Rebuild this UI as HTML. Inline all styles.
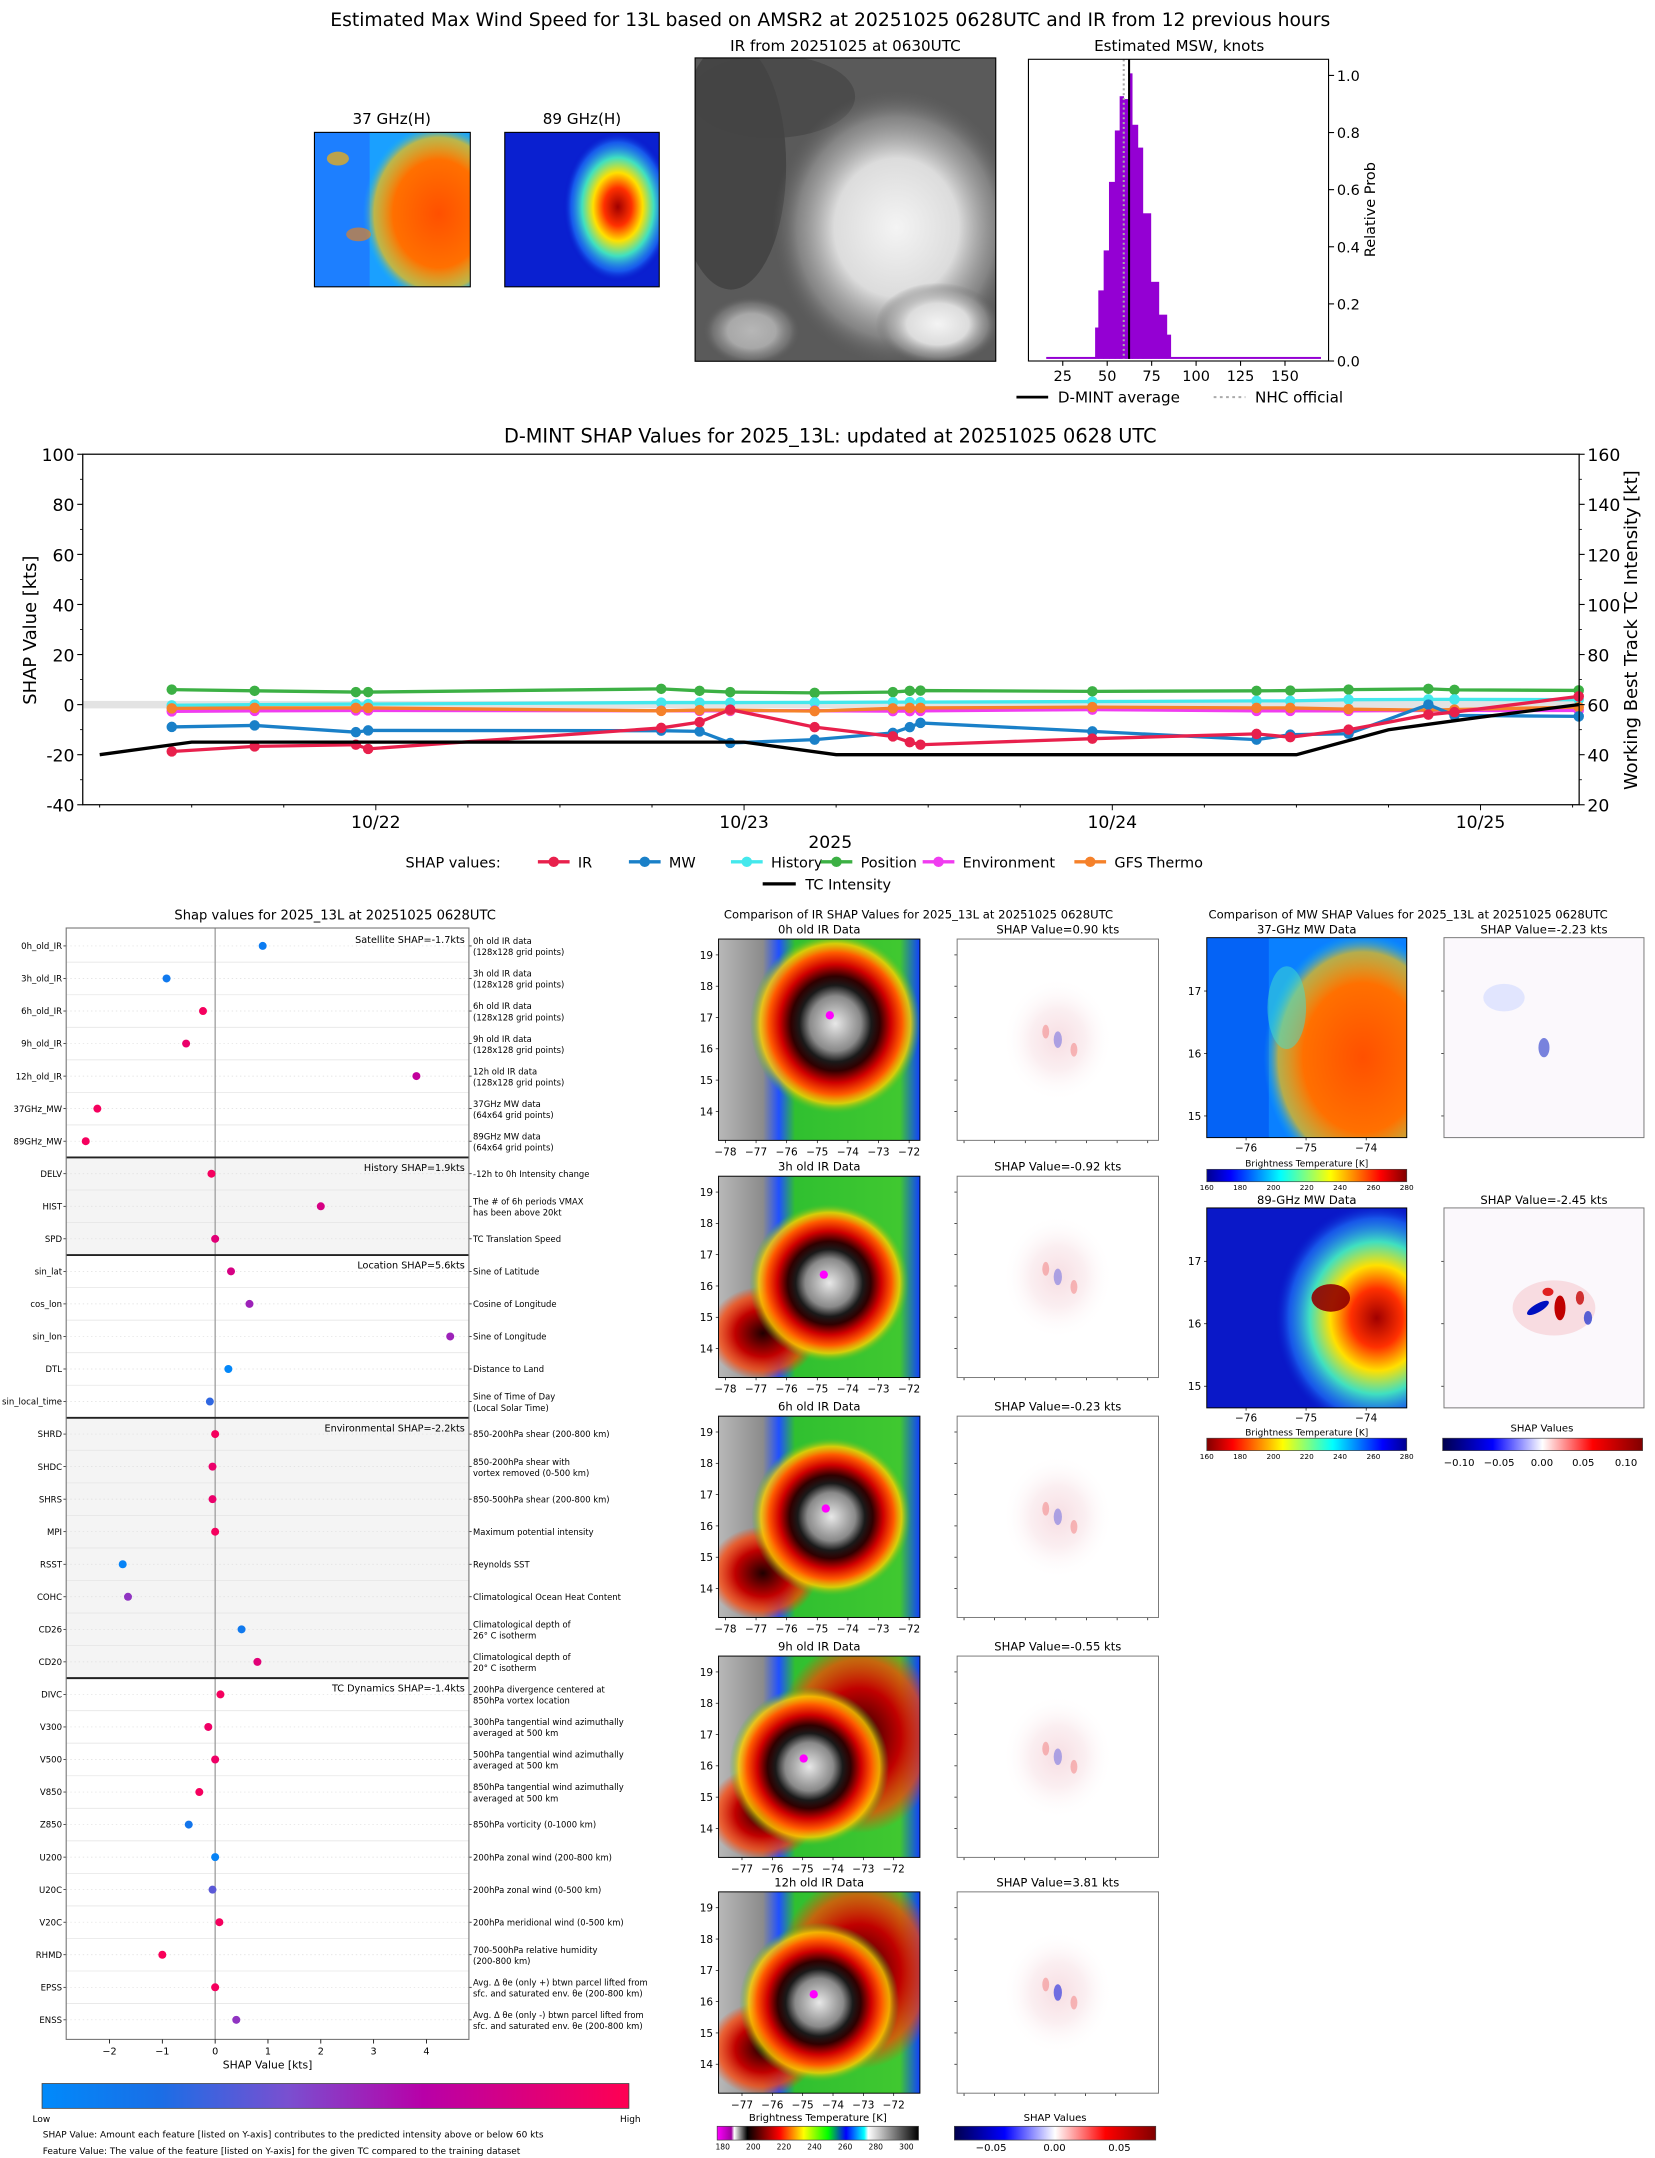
<!DOCTYPE html>
<html><head><meta charset="utf-8">
<style>
html,body{margin:0;padding:0;background:#fff;}
svg{display:block;font-family:"DejaVu Sans","Liberation Sans",sans-serif;}
text{fill:#000;}
</style></head>
<body>
<svg id="root" xmlns="http://www.w3.org/2000/svg" width="1655" height="2158" viewBox="0 0 1200 1565" preserveAspectRatio="none">
<defs>
<linearGradient id="jet" x1="0" x2="1" y1="0" y2="0">
<stop offset="0" stop-color="#00008f"/><stop offset="0.12" stop-color="#0000ff"/><stop offset="0.37" stop-color="#00ffff"/><stop offset="0.62" stop-color="#ffff00"/><stop offset="0.87" stop-color="#ff0000"/><stop offset="1" stop-color="#800000"/>
</linearGradient>
<linearGradient id="jetr" x1="1" x2="0" y1="0" y2="0">
<stop offset="0" stop-color="#00008f"/><stop offset="0.12" stop-color="#0000ff"/><stop offset="0.37" stop-color="#00ffff"/><stop offset="0.62" stop-color="#ffff00"/><stop offset="0.87" stop-color="#ff0000"/><stop offset="1" stop-color="#800000"/>
</linearGradient>
<linearGradient id="seis" x1="0" x2="1" y1="0" y2="0">
<stop offset="0" stop-color="#00004c"/><stop offset="0.25" stop-color="#0000ff"/><stop offset="0.5" stop-color="#ffffff"/><stop offset="0.75" stop-color="#ff0000"/><stop offset="1" stop-color="#800000"/>
</linearGradient>
<linearGradient id="irmap" x1="0" x2="1" y1="0" y2="0">
<stop offset="0" stop-color="#ff00ff"/><stop offset="0.07" stop-color="#a000a0"/><stop offset="0.085" stop-color="#ffffff"/><stop offset="0.15" stop-color="#000000"/><stop offset="0.31" stop-color="#ff0000"/><stop offset="0.43" stop-color="#ffff00"/><stop offset="0.55" stop-color="#00ff00"/><stop offset="0.64" stop-color="#0000ff"/><stop offset="0.73" stop-color="#00ffff"/><stop offset="0.75" stop-color="#ffffff"/><stop offset="1" stop-color="#000000"/>
</linearGradient>
<linearGradient id="beegrad" x1="0" x2="1" y1="0" y2="0">
<stop offset="0" stop-color="#008afb"/><stop offset="0.2" stop-color="#1a6ee6"/><stop offset="0.42" stop-color="#7a4fd0"/><stop offset="0.65" stop-color="#b800a8"/><stop offset="1" stop-color="#ff0052"/>
</linearGradient>
<linearGradient id="irbase" x1="0" x2="1" y1="0" y2="0">
<stop offset="0" stop-color="#b8b8b8"/><stop offset="0.22" stop-color="#8c8c8c"/><stop offset="0.3" stop-color="#2050ff"/><stop offset="0.38" stop-color="#30c030"/><stop offset="0.9" stop-color="#40c830"/><stop offset="1" stop-color="#1040ff"/>
</linearGradient>
<radialGradient id="irstorm">
<stop offset="0" stop-color="#e8e8e8"/><stop offset="0.3" stop-color="#8a8a8a"/><stop offset="0.42" stop-color="#1a1a1a"/><stop offset="0.52" stop-color="#300000"/><stop offset="0.65" stop-color="#d00000"/><stop offset="0.78" stop-color="#ff5a00"/><stop offset="0.88" stop-color="#ffd000" stop-opacity="0.8"/><stop offset="1" stop-color="#30c030" stop-opacity="0"/>
</radialGradient>
<radialGradient id="irblob">
<stop offset="0" stop-color="#200000"/><stop offset="0.5" stop-color="#c00000"/><stop offset="0.8" stop-color="#ff4000" stop-opacity="0.7"/><stop offset="1" stop-color="#ff4000" stop-opacity="0"/>
</radialGradient>
<radialGradient id="grayblob">
<stop offset="0" stop-color="#f4f4f4"/><stop offset="0.5" stop-color="#dcdcdc"/><stop offset="0.8" stop-color="#a0a0a0" stop-opacity="0.6"/><stop offset="1" stop-color="#606060" stop-opacity="0"/>
</radialGradient>
<radialGradient id="orangeblob">
<stop offset="0" stop-color="#ff5000"/><stop offset="0.6" stop-color="#ff7000"/><stop offset="0.85" stop-color="#ffc000" stop-opacity="0.7"/><stop offset="1" stop-color="#00c0ff" stop-opacity="0"/>
</radialGradient>
<radialGradient id="mw89blob">
<stop offset="0" stop-color="#a00000"/><stop offset="0.25" stop-color="#ff3000"/><stop offset="0.45" stop-color="#ffe000"/><stop offset="0.65" stop-color="#40e0c0"/><stop offset="0.85" stop-color="#2080ff" stop-opacity="0.6"/><stop offset="1" stop-color="#0000c0" stop-opacity="0"/>
</radialGradient>
<radialGradient id="shapblob">
<stop offset="0" stop-color="#f2c8d0"/><stop offset="0.5" stop-color="#f8e4e8"/><stop offset="1" stop-color="#ffffff" stop-opacity="0"/>
</radialGradient>
<clipPath id="c37"><rect x="228" y="96" width="113" height="112"/></clipPath>
<clipPath id="c89"><rect x="366" y="96" width="112" height="112"/></clipPath>
<clipPath id="cir"><rect x="504" y="42" width="218" height="220"/></clipPath>
</defs>

<text x="602" y="19" font-size="13.6" text-anchor="middle">Estimated Max Wind Speed for 13L based on AMSR2 at 20251025 0628UTC and IR from 12 previous hours</text>

<text x="284" y="90" font-size="11" text-anchor="middle">37 GHz(H)</text>
<g clip-path="url(#c37)">
<rect x="228" y="96" width="113" height="112" fill="#1aa0ff"/>
<rect x="228" y="96" width="40" height="112" fill="#2070ff" opacity="0.7"/>
<ellipse cx="318" cy="155" rx="55" ry="65" fill="url(#orangeblob)"/>
<ellipse cx="245" cy="115" rx="8" ry="5" fill="#ffb000" opacity="0.7"/>
<ellipse cx="260" cy="170" rx="9" ry="5" fill="#ff8000" opacity="0.6"/>
</g>
<rect x="228" y="96" width="113" height="112" fill="none" stroke="#000" stroke-width="0.8"/>
<text x="422" y="90" font-size="11" text-anchor="middle">89 GHz(H)</text>
<g clip-path="url(#c89)">
<rect x="366" y="96" width="112" height="112" fill="#0a20d0"/>
<ellipse cx="448" cy="150" rx="40" ry="55" fill="url(#mw89blob)"/>
</g>
<rect x="366" y="96" width="112" height="112" fill="none" stroke="#000" stroke-width="0.8"/>
<text x="613" y="37" font-size="11" text-anchor="middle">IR from 20251025 at 0630UTC</text>
<g clip-path="url(#cir)">
<rect x="504" y="42" width="218" height="220" fill="#5a5a5a"/>
<ellipse cx="530" cy="120" rx="40" ry="90" fill="#3c3c3c" opacity="0.7"/>
<ellipse cx="560" cy="70" rx="60" ry="30" fill="#444" opacity="0.7"/>
<ellipse cx="650" cy="165" rx="90" ry="100" fill="url(#grayblob)"/>
<ellipse cx="680" cy="235" rx="45" ry="30" fill="url(#grayblob)"/>
<ellipse cx="545" cy="240" rx="35" ry="25" fill="url(#grayblob)" opacity="0.6"/>
</g>
<rect x="504" y="42" width="218" height="220" fill="none" stroke="#000" stroke-width="0.8"/>

<g id="hist"></g>
<g id="ts"></g>
<g id="beeg"></g>
<g id="irpanels"></g>
<g id="mwpanels"></g>
</svg>

<script>
const binLo = [15.7,43.2,45,48,51,54.3,57,59.2,62,64,67.2,70,74.5,79,83.5,85.7];
const binHi = [43.2,45,48,51,54.3,57,59.2,62,64,67.2,70,74.5,79,83.5,85.7,170];
const binProb = [0.007,0.11,0.24,0.38,0.62,0.80,0.92,0.91,1.0,0.82,0.74,0.51,0.27,0.155,0.085,0.007];
const dmintAvg = 62.3;
const nhcOfficial = 59.3;
const histXTicks = [25,50,75,100,125,150];
const histYTicks = [0,0.2,0.4,0.6,0.8,1.0];

const tsHours = [-13.3,-7.9,-1.3,-0.5,18.6,21.1,23.1,28.6,33.7,34.8,35.5,46.7,57.4,59.6,63.4,68.6,70.3,78.4];
const shapIR = [-18.7,-16.7,-16,-17.7,-9.3,-7,-2,-9,-12.7,-15,-16,-13.6,-11.7,-13,-10,-4,-3,3.3];
const shapMW = [-8.9,-8.3,-11,-10.3,-10.4,-10.7,-15.3,-14,-11.3,-9,-7.3,-10.7,-14,-12,-11.6,0,-4.3,-4.7];
const shapHistory = [-0.3,0,0.2,0.2,0.8,0.8,0.8,0.9,1,1,1,1.2,1.5,1.5,2,2.1,2.1,2];
const shapPosition = [6,5.5,5,5,6.3,5.5,5,4.7,5,5.5,5.6,5.3,5.5,5.6,6,6.3,5.9,5.7];
const shapEnv = [-2.7,-2.5,-2.3,-2.3,-2.4,-2.5,-2.5,-2.4,-2.6,-2.6,-2.5,-2,-2.5,-2.5,-2.5,-2.3,-2.3,-2.3];
const shapGFS = [-1.5,-1.3,-1.3,-1.3,-2.5,-2.2,-2.2,-2.6,-1.5,-1.3,-1.3,-1,-1.3,-1.3,-1.8,-2.2,-2,-1];
const bestHours = [-18,-12,-6,0,6,12,18,24,30,36,42,48,54,60,66,72,78.4];
const bestKt = [40,45,45,45,45,45,45,45,40,40,40,40,40,40,50,55,60];
const tsLeftTicks = [-40,-20,0,20,40,60,80,100];
const tsRightTicks = [20,40,60,80,100,120,140,160];
const tsDateLabels = ['10/22','10/23','10/24','10/25'];
const tsDateHours = [0,24,48,72];

const featNames = ['0h_old_IR','3h_old_IR','6h_old_IR','9h_old_IR','12h_old_IR','37GHz_MW','89GHz_MW','DELV','HIST','SPD','sin_lat','cos_lon','sin_lon','DTL','sin_local_time','SHRD','SHDC','SHRS','MPI','RSST','COHC','CD26','CD20','DIVC','V300','V500','V850','Z850','U200','U20C','V20C','RHMD','EPSS','ENSS'];
const featShap = [0.9,-0.92,-0.23,-0.55,3.81,-2.23,-2.45,-0.07,2.0,0,0.3,0.65,4.45,0.25,-0.1,0,-0.05,-0.05,0,-1.75,-1.65,0.5,0.8,0.1,-0.13,0,-0.3,-0.5,0,-0.05,0.08,-1.0,0,0.4];
const featLevel = [0.1,0.12,0.95,0.9,0.7,0.95,0.95,0.95,0.8,0.85,0.8,0.55,0.55,0.02,0.25,0.95,0.9,0.9,0.95,0.05,0.5,0.12,0.85,0.95,0.92,0.92,0.95,0.15,0.05,0.35,0.95,0.97,0.95,0.5];
const featDesc = [
['0h old IR data','(128x128 grid points)'],['3h old IR data','(128x128 grid points)'],['6h old IR data','(128x128 grid points)'],['9h old IR data','(128x128 grid points)'],['12h old IR data','(128x128 grid points)'],['37GHz MW data','(64x64 grid points)'],['89GHz MW data','(64x64 grid points)'],
['-12h to 0h Intensity change'],['The # of 6h periods VMAX','has been above 20kt'],['TC Translation Speed'],
['Sine of Latitude'],['Cosine of Longitude'],['Sine of Longitude'],['Distance to Land'],['Sine of Time of Day','(Local Solar Time)'],
['850-200hPa shear (200-800 km)'],['850-200hPa shear with','vortex removed (0-500 km)'],['850-500hPa shear (200-800 km)'],['Maximum potential intensity'],['Reynolds SST'],['Climatological Ocean Heat Content'],['Climatological depth of','26° C isotherm'],['Climatological depth of','20° C isotherm'],
['200hPa divergence centered at','850hPa vortex location'],['300hPa tangential wind azimuthally','averaged at 500 km'],['500hPa tangential wind azimuthally','averaged at 500 km'],['850hPa tangential wind azimuthally','averaged at 500 km'],['850hPa vorticity (0-1000 km)'],['200hPa zonal wind (200-800 km)'],['200hPa zonal wind (0-500 km)'],['200hPa meridional wind (0-500 km)'],['700-500hPa relative humidity','(200-800 km)'],['Avg. Δ θe (only +) btwn parcel lifted from','sfc. and saturated env. θe (200-800 km)'],['Avg. Δ θe (only -) btwn parcel lifted from','sfc. and saturated env. θe (200-800 km)']];
const groupNames = ['Satellite SHAP=-1.7kts','History SHAP=1.9kts','Location SHAP=5.6kts','Environmental SHAP=-2.2kts','TC Dynamics SHAP=-1.4kts'];
const groupStart = [0,7,10,15,23];
const groupEnd = [6,9,14,22,33];
const beeTicks = [-2,-1,0,1,2,3,4];

const irTitles = ['0h old IR Data','3h old IR Data','6h old IR Data','9h old IR Data','12h old IR Data'];
const irShapTitles = ['SHAP Value=0.90 kts','SHAP Value=-0.92 kts','SHAP Value=-0.23 kts','SHAP Value=-0.55 kts','SHAP Value=3.81 kts'];

const NS='http://www.w3.org/2000/svg';
function mk(tag, attrs, parent){const e=document.createElementNS(NS,tag);for(const k in attrs)e.setAttribute(k,attrs[k]);parent.appendChild(e);return e;}
function txt(s, attrs, parent){const e=mk('text',attrs,parent);e.textContent=s;return e;}

// histogram
(function(){
const g=document.getElementById('hist');
const X0=745.7,X1=963.3,Y0=260.3;
const hx=v=>X0+(v-5.7)*(X1-X0)/(174.5-5.7);
const hy=p=>Y0-p*207.1;
let t=txt('Estimated MSW, knots',{x:855,y:37,'font-size':11,'text-anchor':'middle'},g);


for(let i=0;i<binProb.length;i++){
 const r=mk('rect',{x:hx(binLo[i]),y:hy(binProb[i]),width:hx(binHi[i])-hx(binLo[i])+0.3,height:Y0-hy(binProb[i]),fill:'#9400d3'},g);
 
 
}
let l=mk('line',{x1:hx(nhcOfficial),x2:hx(nhcOfficial),y1:43,y2:Y0,stroke:'#aaa','stroke-width':1.5,'stroke-dasharray':'1.5,2'},g);


l=mk('line',{x1:hx(dmintAvg),x2:hx(dmintAvg),y1:43,y2:Y0,stroke:'#000','stroke-width':1.5},g);


const fr=mk('rect',{x:X0,y:43,width:X1-X0,height:Y0-43+1.5,fill:'none',stroke:'#000','stroke-width':0.8},g);


histXTicks.forEach(v=>{mk('line',{x1:hx(v),x2:hx(v),y1:Y0+1.5,y2:Y0+5,stroke:'#000','stroke-width':0.8},g);
 const tt=txt(String(v),{x:hx(v),y:Y0+16,'font-size':10.5,'text-anchor':'middle'},g);
 
 });
histYTicks.forEach(v=>{mk('line',{x1:X1,x2:X1+4,y1:hy(v)+1.5,y2:hy(v)+1.5,stroke:'#000','stroke-width':0.8},g);
 const tt=txt(v.toFixed(1),{x:X1+6,y:hy(v)+5.5,'font-size':10.5},g);
 
 });
t=txt('Relative Prob',{x:0,y:0,'font-size':10.5,'text-anchor':'middle',transform:'translate(997,152) rotate(-90)'},g);


mk('line',{x1:737,x2:760,y1:288,y2:288,stroke:'#000','stroke-width':2},g);
t=txt('D-MINT average',{x:767,y:292,'font-size':11},g);


mk('line',{x1:880,x2:903,y1:288,y2:288,stroke:'#aaa','stroke-width':1.5,'stroke-dasharray':'2,2.5'},g);
t=txt('NHC official',{x:910,y:292,'font-size':11},g);


})();

// time series
(function(){
const g=document.getElementById('ts');
const L=60,R=1145,T=329.4,B=583.6;
const tx=h=>272.5+h*11.125;
const ty=v=>511-v*1.8157;
const tyR=r=>511-(r-60)*1.8157;
let t=txt('D-MINT SHAP Values for 2025_13L: updated at 20251025 0628 UTC',{x:602,y:321,'font-size':14,'text-anchor':'middle'},g);


const band=mk('rect',{x:L,y:ty(1.5),width:R-L,height:ty(-1.5)-ty(1.5),fill:'#e3e3e3'},g);


const series=[[shapPosition,'#3cb044','Position'],[shapHistory,'#44e8ec','History'],[shapEnv,'#f03cf0','Environment'],[shapGFS,'#f5812a','GFS Thermo'],[shapMW,'#1a80c8','MW'],[shapIR,'#e8204c','IR']];
series.forEach(([vals,col,nm])=>{
 const pts=vals.map((v,i)=>tx(tsHours[i]).toFixed(1)+','+ty(v).toFixed(1)).join(' ');
 const pl=mk('polyline',{points:pts,fill:'none',stroke:col,'stroke-width':2.4},g);
 
 
 vals.forEach((v,i)=>{const c=mk('circle',{cx:tx(tsHours[i]),cy:ty(v),r:3.8,fill:col},g);
  
  });
});
const bp=bestKt.map((v,i)=>tx(bestHours[i]).toFixed(1)+','+tyR(v).toFixed(1)).join(' ');
const bl=mk('polyline',{points:bp,fill:'none',stroke:'#000','stroke-width':2.4},g);


const fr=mk('rect',{x:L,y:T,width:R-L,height:B-T,fill:'none',stroke:'#000','stroke-width':0.9},g);


tsLeftTicks.forEach(v=>{mk('line',{x1:L-4,x2:L,y1:ty(v),y2:ty(v),stroke:'#000','stroke-width':0.8},g);
 const tt=txt(String(v),{x:L-6,y:ty(v)+5,'font-size':12.5,'text-anchor':'end'},g);
 
 });
for(let v=-30;v<100;v+=20)mk('line',{x1:L-2,x2:L,y1:ty(v),y2:ty(v),stroke:'#000','stroke-width':0.6},g);
tsRightTicks.forEach(v=>{mk('line',{x1:R,x2:R+4,y1:tyR(v),y2:tyR(v),stroke:'#000','stroke-width':0.8},g);
 const tt=txt(String(v),{x:R+6,y:tyR(v)+5,'font-size':12.5},g);
 
 });
for(let v=30;v<160;v+=20)mk('line',{x1:R,x2:R+2,y1:tyR(v),y2:tyR(v),stroke:'#000','stroke-width':0.6},g);
for(let h=-18;h<=78;h+=6){mk('line',{x1:tx(h),x2:tx(h),y1:B,y2:B+(h%24===0?4:2),stroke:'#000','stroke-width':0.7},g);}
tsDateLabels.forEach((s,i)=>{const tt=txt(s,{x:tx(tsDateHours[i]),y:B+17,'font-size':12.5,'text-anchor':'middle'},g);
 
 });
t=txt('2025',{x:602,y:615,'font-size':12.5,'text-anchor':'middle'},g);


t=txt('SHAP Value [kts]',{x:0,y:0,'font-size':13,'text-anchor':'middle',transform:'translate(26,457) rotate(-90)'},g);


t=txt('Working Best Track TC Intensity [kt]',{x:0,y:0,'font-size':13,'text-anchor':'middle',transform:'translate(1187,457) rotate(-90)'},g);


t=txt('SHAP values:',{x:294,y:629,'font-size':10.5},g);


const leg=[['IR','#e8204c',419],['MW','#1a80c8',485],['History','#44e8ec',559],['Position','#3cb044',624],['Environment','#f03cf0',698],['GFS Thermo','#f5812a',808]];
leg.forEach(([nm,col,x])=>{
 mk('line',{x1:x-29,x2:x-6,y1:625,y2:625,stroke:col,'stroke-width':2.4},g);
 mk('circle',{cx:x-17.5,cy:625,r:3.8,fill:col},g);
 const tt=txt(nm,{x:x,y:629,'font-size':10.5},g);
 
 
});
mk('line',{x1:553,x2:577,y1:641,y2:641,stroke:'#000','stroke-width':2.4},g);
t=txt('TC Intensity',{x:584,y:645,'font-size':10.5},g);


})();

// beeswarm
(function(){
const g=document.getElementById('beeg');
const L=48,R=340,T=673,B=1479;
const bx=v=>156+v*38.3;
const by=i=>686+i*23.6;
const lerp=(a,b,t)=>a+(b-a)*t;
function col(t){const st=[[0,[0,138,251]],[0.2,[26,110,230]],[0.42,[122,79,208]],[0.65,[184,0,168]],[1,[255,0,82]]];
 for(let k=1;k<st.length;k++){if(t<=st[k][0]){const f=(t-st[k-1][0])/(st[k][0]-st[k-1][0]);const a=st[k-1][1],b=st[k][1];return 'rgb('+a.map((c,j)=>Math.round(lerp(c,b[j],f))).join(',')+')';}}return 'rgb(255,0,82)';}
let t=txt('Shap values for 2025_13L at 20251025 0628UTC',{x:243,y:667,'font-size':9.5,'text-anchor':'middle'},g);


[1,3].forEach(k=>{const r=mk('rect',{x:L,y:by(groupStart[k])-11.8,width:R-L,height:(groupEnd[k]-groupStart[k]+1)*23.6,fill:'#f4f4f4'},g);
 
 });
featNames.forEach((n,i)=>{
 if(i<33) mk('line',{x1:L,x2:R,y1:by(i)+11.8,y2:by(i)+11.8,stroke:'#e6e6e6','stroke-width':0.6},g);
 mk('line',{x1:L,x2:R,y1:by(i),y2:by(i),stroke:'#ddd','stroke-width':0.5,'stroke-dasharray':'1,2'},g);
});
mk('line',{x1:156,x2:156,y1:T,y2:B,stroke:'#999','stroke-width':0.9},g);
for(let k=1;k<groupStart.length;k++){const y=by(groupStart[k])-11.8;
 const s=mk('line',{x1:L,x2:R,y1:y,y2:y,stroke:'#222','stroke-width':1.4},g);
 
 }
groupNames.forEach((s,k)=>{const tt=txt(s,{x:R-3,y:by(groupStart[k])-2,'font-size':7,'text-anchor':'end'},g);
 
 });
featNames.forEach((n,i)=>{
 const c=mk('circle',{cx:bx(featShap[i]),cy:by(i),r:2.9,fill:col(featLevel[i])},g);
 
 
 mk('line',{x1:L-2,x2:L,y1:by(i),y2:by(i),stroke:'#000','stroke-width':0.5},g);
 const tt=txt(n,{x:L-3,y:by(i)+2.3,'font-size':6.2,'text-anchor':'end'},g);
 
 
 mk('line',{x1:R,x2:R+2,y1:by(i),y2:by(i),stroke:'#000','stroke-width':0.5},g);
 const d=featDesc[i];
 d.forEach((s,j)=>{const dt=txt(s,{x:R+3,y:by(i)+2.3+(d.length===2?(j===0?-3.6:4.4):0),'font-size':6.1},g);
  
  });
});
const fr=mk('rect',{x:L,y:T,width:R-L,height:B-T,fill:'none',stroke:'#777','stroke-width':0.8},g);


beeTicks.forEach(v=>{mk('line',{x1:bx(v),x2:bx(v),y1:B,y2:B+3,stroke:'#000','stroke-width':0.6},g);
 const tt=txt(String(v).replace('-','−'),{x:bx(v),y:B+11,'font-size':7,'text-anchor':'middle'},g);
 
 });
t=txt('SHAP Value [kts]',{x:194,y:B+21,'font-size':7.8,'text-anchor':'middle'},g);


const cb=mk('rect',{x:30.5,y:1511,width:425.5,height:18,fill:'url(#beegrad)',stroke:'#444','stroke-width':0.6},g);


t=txt('Low',{x:30,y:1539,'font-size':6.5,'text-anchor':'middle'},g);


t=txt('High',{x:457,y:1539,'font-size':6.5,'text-anchor':'middle'},g);


t=txt('SHAP Value: Amount each feature [listed on Y-axis] contributes to the predicted intensity above or below 60 kts',{x:31,y:1550,'font-size':6.5},g);


t=txt('Feature Value: The value of the feature [listed on Y-axis] for the given TC compared to the training dataset',{x:31,y:1562,'font-size':6.5},g);


})();

// IR panels
(function(){
const g=document.getElementById('irpanels');
let t=txt('Comparison of IR SHAP Values for 2025_13L at 20251025 0628UTC',{x:666,y:666,'font-size':8.4,'text-anchor':'middle'},g);


const tops=[681,853,1027,1201,1372];
const centers=[[0.58,0.42],[0.55,0.53],[0.56,0.5],[0.45,0.55],[0.5,0.55]];
const W=146,H=146,X=521,SX=694;
tops.forEach((top,k)=>{
 const cp=mk('clipPath',{id:'clip'+k},g);
 mk('rect',{x:X,y:top,width:W,height:H},cp);
 const im=mk('g',{'clip-path':'url(#clip'+k+')'},g);
 
 
 mk('rect',{x:X,y:top,width:W,height:H,fill:'url(#irbase)'},im);
 if(k>=1) mk('ellipse',{cx:X+0.22*W,cy:top+0.78*H,rx:40,ry:34,fill:'url(#irblob)'},im);
 if(k>=3) mk('ellipse',{cx:X+0.7*W,cy:top+0.4*H,rx:60,ry:70,fill:'url(#irblob)'},im);
 const [cx,cy]=centers[k];
 mk('ellipse',{cx:X+cx*W,cy:top+cy*H,rx:k===0?62:58,ry:k===0?66:58,fill:'url(#irstorm)'},im);
 mk('circle',{cx:X+cx*W-4,cy:top+cy*H-6,r:3,fill:'#ff00ff'},im);
 mk('rect',{x:X,y:top,width:W,height:H,fill:'none',stroke:'#000','stroke-width':0.7},g);
 t=txt(irTitles[k],{x:X+W/2,y:top-4,'font-size':8.4,'text-anchor':'middle'},g);
 
 
 for(let v=13;v<=19;v++){const y=top+11.5+(19-v)*22.7; if(y>top+H-2)continue;
  mk('line',{x1:X-2,x2:X,y1:y,y2:y,stroke:'#000','stroke-width':0.5},g);
  const tt=txt(String(v),{x:X-4,y:y+2.8,'font-size':7.6,'text-anchor':'end'},g);
  
  
  mk('line',{x1:SX-2,x2:SX,y1:y,y2:y,stroke:'#000','stroke-width':0.5},g);}
 const lons=k<3?[-78,-77,-76,-75,-74,-73,-72]:[-77,-76,-75,-74,-73,-72];
 const x0=k<3?526:538, dx=k<3?22.2:22;
 lons.forEach((v,i)=>{const x=x0+i*dx;
  mk('line',{x1:x,x2:x,y1:top+H,y2:top+H+2,stroke:'#000','stroke-width':0.5},g);
  const tt=txt('−'+Math.abs(v),{x:x,y:top+H+11,'font-size':7.6,'text-anchor':'middle'},g);
  
  
  mk('line',{x1:SX+5+i*dx,x2:SX+5+i*dx,y1:top+H,y2:top+H+2,stroke:'#000','stroke-width':0.5},g);});
 const sg=mk('g',{},g);
 
 
 mk('rect',{x:SX,y:top,width:W,height:H,fill:'#fff',stroke:'#777','stroke-width':0.7},sg);
 mk('ellipse',{cx:SX+W*0.5,cy:top+H*0.5,rx:40,ry:45,fill:'url(#shapblob)',opacity:0.6},sg);
 mk('ellipse',{cx:SX+W*0.5,cy:top+H*0.5,rx:3,ry:6,fill:'#6060e0',opacity:k===4?0.9:0.5},sg);
 mk('ellipse',{cx:SX+W*0.44,cy:top+H*0.46,rx:2.5,ry:5,fill:'#f06060',opacity:0.4},sg);
 mk('ellipse',{cx:SX+W*0.58,cy:top+H*0.55,rx:2.5,ry:5,fill:'#f06060',opacity:0.4},sg);
 t=txt(irShapTitles[k],{x:SX+W/2,y:top-4,'font-size':8.4,'text-anchor':'middle'},g);
 
 
});
let cb=mk('rect',{x:520,y:1542,width:146,height:10,fill:'url(#irmap)',stroke:'#444','stroke-width':0.5},g);


t=txt('Brightness Temperature [K]',{x:593,y:1538,'font-size':7.3,'text-anchor':'middle'},g);


[180,200,220,240,260,280,300].forEach((v,i)=>{const x=524+i*22.2;
 const tt=txt(String(v),{x:x,y:1559,'font-size':5.5,'text-anchor':'middle'},g);
 
 });
cb=mk('rect',{x:692,y:1542,width:146,height:10,fill:'url(#seis)',stroke:'#444','stroke-width':0.5},g);


t=txt('SHAP Values',{x:765,y:1538,'font-size':7.3,'text-anchor':'middle'},g);


[['−0.05',718.6],['0.00',764.6],['0.05',811.7]].forEach(([s,x])=>{const tt=txt(s,{x:x,y:1560,'font-size':7.3,'text-anchor':'middle'},g);
 
 });
})();

// MW panels
(function(){
const g=document.getElementById('mwpanels');
let t=txt('Comparison of MW SHAP Values for 2025_13L at 20251025 0628UTC',{x:1021,y:666,'font-size':8.4,'text-anchor':'middle'},g);


const X=875,W=145,SX=1047,H=145;
const tops=[680,876];
const titles=['37-GHz MW Data','89-GHz MW Data'];
const stitles=['SHAP Value=-2.23 kts','SHAP Value=-2.45 kts'];
tops.forEach((top,k)=>{
 const cp=mk('clipPath',{id:'mclip'+k},g);
 mk('rect',{x:X,y:top,width:W,height:H},cp);
 const im=mk('g',{'clip-path':'url(#mclip'+k+')'},g);
 
 
 if(k===0){
  mk('rect',{x:X,y:top,width:W,height:H,fill:'#0a80ff'},im);
  mk('rect',{x:X,y:top,width:45,height:H,fill:'#0050f0',opacity:0.6},im);
  mk('ellipse',{cx:X+W*0.78,cy:top+H*0.6,rx:72,ry:90,fill:'url(#orangeblob)'},im);
  mk('ellipse',{cx:X+W*0.4,cy:top+H*0.35,rx:14,ry:30,fill:'#40e0d0',opacity:0.5},im);
 }else{
  mk('rect',{x:X,y:top,width:W,height:H,fill:'#0a18c8'},im);
  mk('ellipse',{cx:X+W*0.85,cy:top+H*0.55,rx:75,ry:85,fill:'url(#mw89blob)'},im);
  mk('ellipse',{cx:X+W*0.62,cy:top+H*0.45,rx:14,ry:10,fill:'#900000',opacity:0.9},im);
 }
 mk('rect',{x:X,y:top,width:W,height:H,fill:'none',stroke:'#000','stroke-width':0.7},g);
 t=txt(titles[k],{x:X+W/2,y:top-3,'font-size':8.4,'text-anchor':'middle'},g);
 
 
 [[17,38.7],[16,84],[15,129.3]].forEach(([v,dy])=>{const y=top+dy;
  mk('line',{x1:X-2,x2:X,y1:y,y2:y,stroke:'#000','stroke-width':0.5},g);
  const tt=txt(String(v),{x:X-4,y:y+2.8,'font-size':7.6,'text-anchor':'end'},g);
  
  
  mk('line',{x1:SX-2,x2:SX,y1:y,y2:y,stroke:'#000','stroke-width':0.5},g);});
 [['−76',903.5],['−75',947],['−74',990.6]].forEach(([s,x])=>{
  mk('line',{x1:x,x2:x,y1:top+H,y2:top+H+2,stroke:'#000','stroke-width':0.5},g);
  const tt=txt(s,{x:x,y:top+H+10,'font-size':7.6,'text-anchor':'middle'},g);
  
  });
 const sg=mk('g',{},g);
 
 
 mk('rect',{x:SX,y:top,width:W,height:H,fill:'#fbf8fc',stroke:'#777','stroke-width':0.7},sg);
 if(k===0){
  mk('ellipse',{cx:SX+W*0.5,cy:top+H*0.55,rx:4,ry:7,fill:'#4050d0',opacity:0.7},sg);
  mk('ellipse',{cx:SX+W*0.3,cy:top+H*0.3,rx:15,ry:10,fill:'#d0d8ff',opacity:0.6},sg);
 }else{
  mk('ellipse',{cx:SX+W*0.55,cy:top+H*0.5,rx:30,ry:20,fill:'#f6d0d6',opacity:0.7},sg);
  mk('ellipse',{cx:SX+W*0.47,cy:top+H*0.5,rx:9,ry:3,fill:'#0010c0',transform:'rotate(-30 '+(SX+W*0.47)+' '+(top+H*0.5)+')'},sg);
  mk('ellipse',{cx:SX+W*0.58,cy:top+H*0.5,rx:4,ry:9,fill:'#c00000'},sg);
  mk('ellipse',{cx:SX+W*0.52,cy:top+H*0.42,rx:4,ry:3,fill:'#e02020'},sg);
  mk('ellipse',{cx:SX+W*0.68,cy:top+H*0.45,rx:3,ry:5,fill:'#d03030'},sg);
  mk('ellipse',{cx:SX+W*0.72,cy:top+H*0.55,rx:3,ry:5,fill:'#3040d0',opacity:0.8},sg);
 }
 t=txt(stitles[k],{x:SX+W/2,y:top-3,'font-size':8.4,'text-anchor':'middle'},g);
 
 
 const cy=k===0?848:1043;
 const cb=mk('rect',{x:X,y:cy,width:W,height:9,fill:k===0?'url(#jet)':'url(#jetr)',stroke:'#444','stroke-width':0.5},g);
 
 
 t=txt('Brightness Temperature [K]',{x:X+W/2,y:cy-2,'font-size':6.5,'text-anchor':'middle'},g);
 
 
 [160,180,200,220,240,260,280].forEach((v,i)=>{const tt=txt(String(v),{x:X+i*W/6,y:cy+15,'font-size':5.3,'text-anchor':'middle'},g);
  
  });
});
const cb=mk('rect',{x:1046,y:1043,width:145,height:9,fill:'url(#seis)',stroke:'#444','stroke-width':0.5},g);


let t2=txt('SHAP Values',{x:1118,y:1038,'font-size':7.3,'text-anchor':'middle'},g);


[['−0.10',1058],['−0.05',1087],['0.00',1118],['0.05',1148],['0.10',1179]].forEach(([s,x])=>{const tt=txt(s,{x:x,y:1063,'font-size':7.3,'text-anchor':'middle'},g);
 
 });
})();
</script>
</body></html>
